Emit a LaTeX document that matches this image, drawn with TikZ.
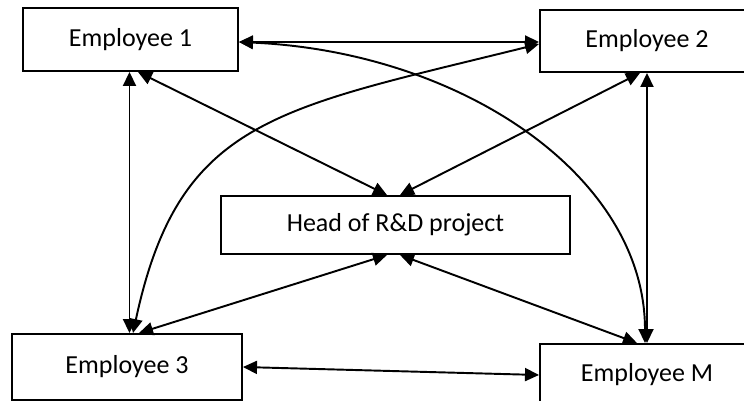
\documentclass[tikz,border=0pt]{standalone}
\usepackage{fontspec}
\setmainfont{Carlito}
\usetikzlibrary{arrows.meta}

\begin{document}
\begin{tikzpicture}[
    box/.style={draw, line width=1.1pt, inner sep=0pt, font=\fontsize{14.8}{18}\selectfont},
    link/.style={{Triangle[length=2.8mm, width=2.6mm]}-{Triangle[length=2.8mm, width=2.6mm]}, line width=1.1pt}
  ]
  \clip (0,0) rectangle (14.88,8.02);

  \node[box, minimum width=4.30cm, minimum height=1.26cm] (emp1) at (2.61,7.23) {Employee 1};
  \node[box, minimum width=4.28cm, minimum height=1.24cm] (emp2) at (12.94,7.20) {Employee 2};
  \node[box, minimum width=4.60cm, minimum height=1.32cm] (emp3) at (2.54,0.68) {Employee 3};
  \node[box, minimum width=4.28cm, minimum height=1.24cm] (empM) at (12.94,0.52) {Employee M};
  \node[box, minimum width=6.98cm, minimum height=1.16cm] (head) at (7.91,3.52) {Head of R\&D project};

  \draw[link] ([yshift=-0.05cm]emp1.east) -- ([yshift=-0.05cm]emp1.east -| emp2.west);
  \draw[link] ([xshift=-0.02cm]emp1.south) -- ([xshift=-0.02cm]emp1.south |- emp3.north);
  \draw[link] ([xshift=0.15cm]emp1.south) -- ([xshift=-0.17cm]head.north);
  \draw[link] ([xshift=-0.14cm]emp2.south) -- ([xshift=0.09cm]head.north);
  \draw[link] (emp2.south) -- (emp2.south |- empM.north);
  \draw[link] ([xshift=0.24cm]emp3.north) -- ([xshift=-0.17cm]head.south);
  \draw[link] ([xshift=0.09cm]head.south) -- ([xshift=-0.2cm]empM.north);
  \draw[link] (emp3.east) -- (empM.west);

  \draw[link] ([yshift=-0.05cm]emp1.east) .. controls +(4.48,-0.2) and +(0,3.32) .. ([xshift=-0.04cm]empM.north);
  \draw[link] ([xshift=0.12cm]emp3.north) .. controls +(0.92,4.30) and +(-5.24,-1.30) .. ([yshift=-0.06cm]emp2.west);
\end{tikzpicture}
\end{document}
